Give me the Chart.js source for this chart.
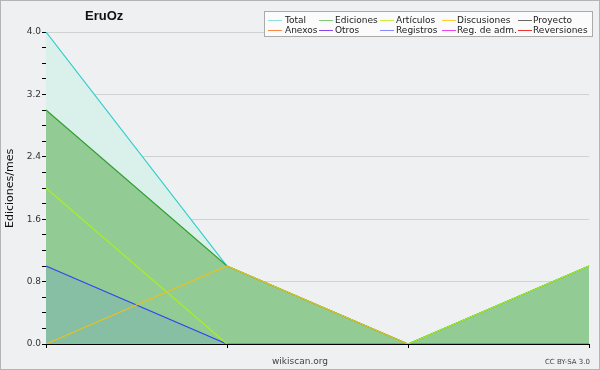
<!DOCTYPE html>
<html>
<head>
<meta charset="utf-8">
<script src="https://cdn.jsdelivr.net/npm/chart.js@4"></script>
<style>
  html, body { margin: 0; padding: 0; background: #eff0f1; }
  #wrap { position: relative; width: 600px; height: 370px; overflow: hidden; background: #eff0f1; font-family: "DejaVu Sans", sans-serif; }
  #frame { position: absolute; left: 0; top: 0; width: 600px; height: 370px; box-sizing: border-box; border: 1px solid #b4b4b4; pointer-events: none; }
  canvas { position: absolute; left: 0; top: 0; }
  .t { position: absolute; white-space: nowrap; }
  #title { left: 85px; top: 8px; font: bold 13px "Liberation Sans", Arial, sans-serif; color: #111; }
  #ylab { left: 4px; top: 141px; height: 87px; font-size: 11px; line-height: 12px; font-weight: normal; color: #111; writing-mode: vertical-rl; transform: rotate(180deg); }
  #site { left: 300px; top: 361px; font-size: 9px; color: #444; transform: translate(-50%, -50%); }
  #lic { left: 590px; top: 362px; font-size: 7px; color: #444; transform: translate(-100%, -50%); }
  #legend { position: absolute; left: 264px; top: 11px; width: 329px; height: 26px; box-sizing: border-box; background: #fbfbfb; border: 1px solid #aaa; }
  .li { position: absolute; font-size: 9px; color: #222; line-height: 10px; white-space: nowrap; }
  .sw { position: absolute; width: 14px; height: 1px; }
</style>
</head>
<body>
<div id="wrap">
  <canvas id="c" width="600" height="370"></canvas>
  <div id="legend"></div>
  <div class="t" id="title">EruOz</div>
  <div class="t" id="ylab">Ediciones/mes</div>
  <div class="t" id="site">wikiscan.org</div>
  <div class="t" id="lic">CC BY-SA 3.0</div>
  <div id="frame"></div>
</div>
<script>
// ---- data ----
const categories = ['m1', 'm2', 'm3', 'm4'];
const total       = [4, 1, 0, 1];
const ediciones   = [3, 1, 0, 1];
const articulos   = [2, 0, 0, 1];
const discusiones = [0, 1, 0, 0];
const proyecto    = [0, 0, 0, 0];
const anexos      = [0, 0, 0, 0];
const otros       = [0, 0, 0, 0];
const registros   = [1, 0, 0, 0];
const regAdm      = [0, 0, 0, 0];
const reversiones = [0, 0, 0, 0];
const yMin = 0, yMax = 4, yStep = 0.2, yLabelStep = 0.8;

const legendNames = ['Total', 'Ediciones', 'Artículos', 'Discusiones', 'Proyecto',
                     'Anexos', 'Otros', 'Registros', 'Reg. de adm.', 'Reversiones'];
const legendColors = ['#8fe0e0', '#7ecb7e', '#ccee44', '#ffcc33', '#666666',
                      '#ff8844', '#8844ee', '#8888ff', '#ee44ee', '#ee3333'];

// ---- legend (HTML text) ----
const leg = document.getElementById('legend');
const colSw = [3, 54, 115, 177, 253];
const colTx = [20, 70, 131, 192, 268];
const rowY = [3, 13];
legendNames.forEach((n, i) => {
  const r = Math.floor(i / 5), c = i % 5;
  const sw = document.createElement('div');
  sw.className = 'sw';
  sw.style.left = colSw[c] + 'px';
  sw.style.top = (rowY[r] + 5) + 'px';
  sw.style.background = legendColors[i];
  leg.appendChild(sw);
  const tx = document.createElement('div');
  tx.className = 'li';
  tx.style.left = colTx[c] + 'px';
  tx.style.top = rowY[r] + 'px';
  tx.textContent = n;
  leg.appendChild(tx);
});

// ---- chart ----
function ds(label, data, color, fill, order) {
  return {
    label, data,
    borderColor: color,
    backgroundColor: fill || 'transparent',
    fill: fill ? 'origin' : false,
    borderWidth: 1.2,
    pointRadius: 0,
    tension: 0,
    order
  };
}
const isMajor = v => Math.abs(v / yLabelStep - Math.round(v / yLabelStep)) < 1e-6;

new Chart(document.getElementById('c'), {
  type: 'line',
  data: {
    labels: categories,
    datasets: [
      ds('Discusiones', discusiones, '#e8c020', null, 1),
      ds('Artículos', articulos, '#aaee22', null, 2),
      ds('Registros', registros, '#3344ee', '#86bfa4', 3),
      ds('Proyecto', proyecto, '#666666', null, 4),
      ds('Anexos', anexos, '#ff8844', null, 4),
      ds('Otros', otros, '#8844ee', null, 4),
      ds('Reg. de adm.', regAdm, '#ee44ee', null, 4),
      ds('Reversiones', reversiones, '#ee3333', null, 4),
      ds('Ediciones', ediciones, '#33a033', '#93cb94', 8),
      ds('Total', total, '#33cccc', '#daf1eb', 9)
    ]
  },
  options: {
    responsive: false,
    animation: false,
    devicePixelRatio: 1,
    layout: { padding: { left: 0, right: 11, top: 32, bottom: 0 } },
    plugins: { legend: { display: false }, title: { display: false }, tooltip: { enabled: false } },
    scales: {
      x: {
        type: 'category',
        offset: false,
        z: 1,
        border: { display: true, color: '#000', width: 1 },
        grid: { drawOnChartArea: false, drawTicks: true, tickLength: 4, color: '#000' },
        ticks: { callback: () => '', autoSkip: false, maxRotation: 0, padding: 0 },
        afterFit: s => { s.height = 26; }
      },
      y: {
        min: yMin, max: yMax,
        z: 1,
        border: { display: true, color: '#000', width: 1 },
        grid: {
          color: ctx => (ctx.tick && isMajor(ctx.tick.value) && ctx.tick.value > 0) ? 'rgba(0,0,0,0.13)' : 'rgba(0,0,0,0)',
          tickColor: '#000',
          tickLength: 4,
          drawTicks: true
        },
        ticks: {
          stepSize: yStep,
          autoSkip: false,
          padding: 1,
          color: '#333',
          font: { family: 'DejaVu Sans', size: 9 },
          callback: v => isMajor(v) ? v.toFixed(1) : ''
        },
        afterFit: s => { s.width = 46; }
      }
    }
  }
});
</script>
</body>
</html>
